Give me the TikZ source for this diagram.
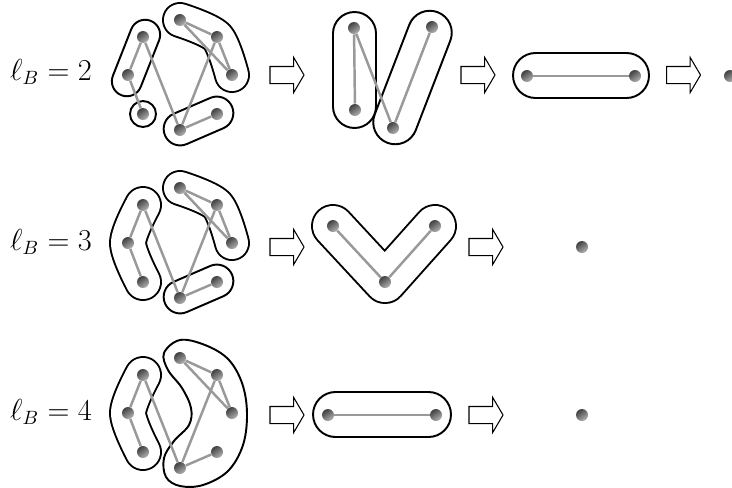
\documentclass[tikz,border=0pt]{standalone}
\usepackage{amsmath}
\usepackage{tikz}
\usetikzlibrary{
  positioning,
  shapes.misc,
  shapes.arrows,
  backgrounds
}

\begin{document}
\begin{tikzpicture}[
  x=0.02cm, y=-0.02cm,
  font=\fontsize{16pt}{19pt}\selectfont,
  vertex/.style={
    circle,
    inner sep=0pt,
    minimum size=0.24cm,
    shading=axis,
    top color=black!75,
    bottom color=black!30,
    shading angle=35
  },
  link/.style={
    draw=black!40,
    line width=1.4pt
  },
  grp/.style={
    rounded rectangle,
    draw,
    line width=1.1pt,
    inner sep=0pt
  },
  band/.style={
    draw,
    line width=1.1pt,
    double=white,
    double distance={2*#1*0.02cm-1.1pt},
    line cap=round,
    line join=round
  },
  blockarrow/.style={
    single arrow,
    draw,
    line width=0.6pt,
    inner xsep=0pt,
    inner ysep=0.16cm,
    minimum height=0.68cm,
    single arrow head extend=0.18cm,
    single arrow tip angle=119
  }
]
\clip (0,0) rectangle (732,487);

% Left graphs, one per row
\foreach \r/\y in {1/75, 2/243, 3/413} {
  \node[vertex] (a\r) at (143,\y-38) {};
  \node[vertex] (b\r) at (128,\y) {};
  \node[vertex] (c\r) at (143,\y+39) {};
  \node[vertex] (d\r) at (180,\y-55) {};
  \node[vertex] (e\r) at (217,\y-38) {};
  \node[vertex] (f\r) at (232,\y) {};
  \node[vertex] (g\r) at (180,\y+55) {};
  \node[vertex] (h\r) at (217,\y+39) {};
  \draw[link] (a\r) -- (b\r) -- (c\r);
  \draw[link] (a\r) -- (g\r) -- (h\r);
  \draw[link] (d\r) -- (e\r) -- (f\r) -- (d\r);
  \draw[link] (e\r) -- (g\r);
}

% Row labels
\node[anchor=base] (lab1) at (51,80) {$\ell_B = 2$};
\node[anchor=base] (lab2) at (51,250) {$\ell_B = 3$};
\node[anchor=base] (lab3) at (51,420) {$\ell_B = 4$};

% Row 1: coarser graphs
\node[vertex] (pa) at (354,28) {};
\node[vertex] (pb) at (355,110) {};
\node[vertex] (pc) at (393,128) {};
\node[vertex] (pd) at (432,27) {};
\draw[link] (pa) -- (pb);
\draw[link] (pa) -- (pc) -- (pd);
\node[vertex] (qa) at (527,76) {};
\node[vertex] (qb) at (635,76) {};
\draw[link] (qa) -- (qb);
\node[vertex] (z1) at (730,76) {};

% Row 2
\node[vertex] (va) at (333,226) {};
\node[vertex] (vb) at (385,282) {};
\node[vertex] (vc) at (435,226) {};
\draw[link] (va) -- (vb) -- (vc);
\node[vertex] (z2) at (582,247) {};

% Row 3
\node[vertex] (ha) at (328,415) {};
\node[vertex] (hb) at (436,415) {};
\draw[link] (ha) -- (hb);
\node[vertex] (z3) at (582,415) {};

% Arrows between stages
\node[blockarrow] (ar11) at (284.5,75) {};
\node[blockarrow] (ar12) at (475.5,75) {};
\node[blockarrow] (ar13) at (681,75) {};
\node[blockarrow] (ar21) at (284.5,247) {};
\node[blockarrow] (ar22) at (483.5,247) {};
\node[blockarrow] (ar31) at (284.5,415) {};
\node[blockarrow] (ar32) at (483.5,415) {};

% Boxes round the groups
\begin{scope}[on background layer]
  % row 1
  \node[grp, minimum width=1.6cm, minimum height=0.6cm, rotate=68.5] at (136,58) {};
  \draw[line width=1.1pt] (c1.center) circle[radius=0.26cm];
  \draw[band=17] plot[smooth] coordinates {(d1.center) (e1.center) (f1.center)};
  \node[grp, minimum width=1.46cm, minimum height=0.66cm, rotate=23.4] at (198.5,121) {};
  \node[grp, minimum width=2.32cm, minimum height=0.86cm, rotate=90] at (354.5,70) {};
  \node[grp, minimum width=2.8cm, minimum height=0.88cm, rotate=68.9] at (412.5,77.5) {};
  \node[grp, minimum width=2.72cm, minimum height=0.9cm] at (581,75.5) {};
  % row 2
  \draw[band=18] plot[smooth] coordinates {(a2.center) (b2.center) (c2.center)};
  \draw[band=17] plot[smooth] coordinates {(d2.center) (e2.center) (f2.center)};
  \node[grp, minimum width=1.46cm, minimum height=0.66cm, rotate=23.4] at (198.5,289) {};
  \draw[band=21] (va.center) -- (vb.center) -- (vc.center);
  % row 3
  \draw[band=18] plot[smooth] coordinates {(a3.center) (b3.center) (c3.center)};
  \draw[line width=1.1pt] plot[smooth cycle, tension=0.6] coordinates {
    (180,340) (205,345) (228,359) (242,383) (247,413) (243,445)
    (228,471) (203,485) (180,486) (166,477) (164,458) (174,441)
    (189,425) (191,408) (182,388) (168,370) (164,353)};
  \node[grp, minimum width=2.76cm, minimum height=0.9cm] at (382,414.5) {};
\end{scope}
\end{tikzpicture}
\end{document}
